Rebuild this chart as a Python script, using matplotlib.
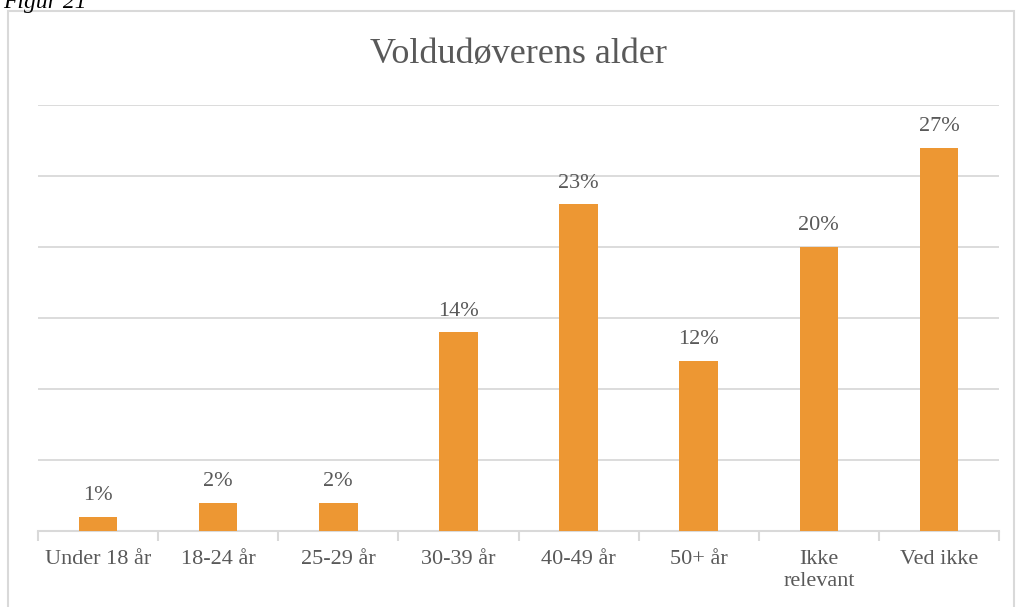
import matplotlib
matplotlib.use("Agg")
import matplotlib.pyplot as plt
from matplotlib.patches import Rectangle
import numpy as np

categories = ["Under 18 år", "18-24 år", "25-29 år", "30-39 år", "40-49 år", "50+ år", "Ikke\nrelevant", "Ved ikke"]
values = [1, 2, 2, 14, 23, 12, 20, 27]
labels = ["1%", "2%", "2%", "14%", "23%", "12%", "20%", "27%"]

W, H = 1017, 607
fig = plt.figure(figsize=(W / 100, H / 100), dpi=100)
plt.rcParams['font.family'] = ['Liberation Serif', 'DejaVu Serif']

text_color = "#595959"
grid_color = "#d9d9d9"
bar_color = "#ED9733"

# outer chart border
fig.patches.append(Rectangle((8 / W, -0.05), (1014 - 8) / W, 1 - 11 / H + 0.05,
                             transform=fig.transFigure, fill=False,
                             edgecolor=grid_color, linewidth=1.5))

# cut-off caption at top
fig.text(3 / W, 1 - 8 / H, "Figur 21", fontsize=17, style="italic",
         color="#000000", ha="left", va="baseline")

ax = fig.add_axes([38 / W, 1 - 531 / H, (999 - 38) / W, (531 - 105) / H])
x = np.arange(len(categories))
ax.bar(x, values, width=0.32, color=bar_color, zorder=3)
ax.set_xlim(-0.5, len(categories) - 0.5)
ax.set_ylim(0, 30)
ax.set_yticks(np.arange(0, 31, 5))
ax.yaxis.grid(True, color=grid_color, linewidth=1.3, zorder=0)
ax.tick_params(axis="y", left=False, labelleft=False)
for s in ["top", "right", "left"]:
    ax.spines[s].set_visible(False)
ax.spines["bottom"].set_color(grid_color)
ax.spines["bottom"].set_linewidth(1.5)

ax.set_xticks(x)
ax.set_xticklabels(categories, fontsize=16, color=text_color, linespacing=1.2)
ax.tick_params(axis="x", length=0, pad=13.5)
ax.set_xticks(np.arange(-0.5, len(categories)), minor=True)
ax.tick_params(axis="x", which="minor", length=7, width=1.5, color=grid_color)

for xi, v, lab in zip(x, values, labels):
    ax.annotate(lab, (xi, v), xytext=(0, 12), textcoords="offset points",
                ha="center", va="baseline", fontsize=16, color=text_color)

fig.text(519 / W, 1 - 63 / H, "Voldudøverens alder", fontsize=26,
         color=text_color, ha="center", va="baseline")

fig.savefig("out.png", dpi=100)
